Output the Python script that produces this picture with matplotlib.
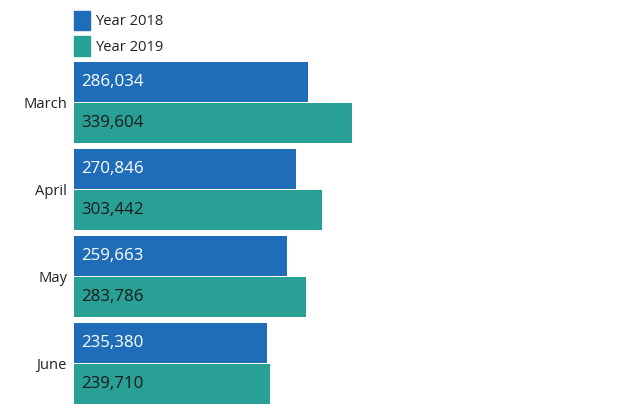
import numpy as np
import matplotlib
matplotlib.use("Agg")
import matplotlib.pyplot as plt
from matplotlib.patches import Patch

months = ["March", "April", "May", "June"]
year_2018 = [286034, 270846, 259663, 235380]
year_2019 = [339604, 303442, 283786, 239710]
series_names = ["Year 2018", "Year 2019"]

BLUE = "#1f6db9"
TEAL = "#29a096"

plt.rcParams["font.family"] = ["Open Sans", "DejaVu Sans"]

fig = plt.figure(figsize=(6.2, 4.13), dpi=100)
W, H = 620, 413
ax = fig.add_axes([74 / W, 9 / H, (352 - 74) / W, 342 / H])

y = np.arange(len(months))
bh = 40 / 87
off = 20.5 / 87

b1 = ax.barh(y - off, year_2018, height=bh, color=BLUE)
b2 = ax.barh(y + off, year_2019, height=bh, color=TEAL)

pad_x = 7.5 / 278 * 339604
for rect, v in zip(b1, year_2018):
    ax.text(pad_x, rect.get_y() + rect.get_height() / 2, f"{v:,}",
            color="white", fontsize=12.2, va="center", ha="left")
for rect, v in zip(b2, year_2019):
    ax.text(pad_x, rect.get_y() + rect.get_height() / 2, f"{v:,}",
            color="#1a1a1a", fontsize=12.2, va="center", ha="left")

ax.set_xlim(0, 339604)
ax.set_ylim(3 + 0.466, -0.466)
ax.set_yticks(y)
ax.set_yticklabels(months, fontsize=10.6, color="#222222")
ax.tick_params(axis="y", length=0, pad=5)
ax.set_xticks([])
for s in ax.spines.values():
    s.set_visible(False)

handles = [Patch(color=BLUE), Patch(color=TEAL)]
ax.legend(handles, series_names, loc="lower left", bbox_to_anchor=(0, 1.019),
          frameon=False, borderpad=0, borderaxespad=0, handlelength=1.1,
          handleheight=1.62, handletextpad=0.35, labelspacing=0.45,
          fontsize=10.6, labelcolor="#222222")

fig.savefig("out.png", dpi=100)
